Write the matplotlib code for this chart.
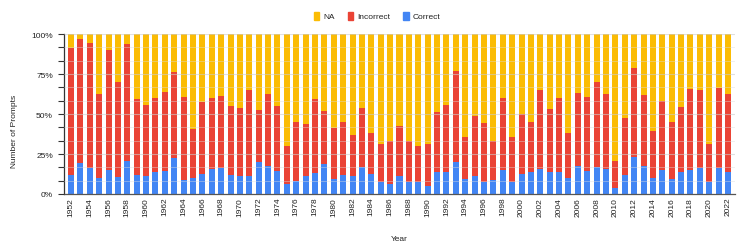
import numpy as np
import matplotlib
matplotlib.use("Agg")
import matplotlib.pyplot as plt
from matplotlib import patches
import matplotlib.ticker as ticker

plt.rcParams['font.family'] = ['Liberation Sans', 'DejaVu Sans']

years = list(range(1952, 2023))

# share of prompts per year, in percent (NA is whatever is left up to 100)
correct = [12.1, 19.6, 16.5, 10.0, 14.8, 10.8, 20.6, 11.9, 11.2, 13.7,
           14.6, 22.3, 8.5, 10.0, 12.5, 15.8, 16.2, 11.9, 11.0, 11.0,
           19.8, 17.5, 14.2, 6.5, 8.3, 11.0, 13.1, 18.5, 9.6, 12.1,
           11.2, 16.9, 12.5, 7.7, 6.2, 11.2, 7.7, 7.7, 5.2, 13.5,
           14.0, 20.0, 9.6, 11.2, 7.7, 9.0, 15.0, 7.7, 12.5, 14.0,
           15.4, 13.5, 13.5, 10.0, 17.3, 14.2, 16.9, 15.8, 4.0, 11.9,
           23.3, 17.5, 10.0, 15.0, 9.6, 13.7, 15.0, 16.2, 7.7, 16.2,
           13.7]
answered = [91.0, 96.9, 94.4, 62.7, 89.8, 69.8, 93.8, 59.2, 55.8, 59.8,
            63.7, 76.0, 60.6, 40.8, 57.7, 59.8, 61.0, 54.8, 53.7, 65.0,
            52.5, 62.3, 54.8, 29.8, 45.2, 44.0, 59.4, 52.1, 41.5, 45.2,
            37.1, 53.7, 38.3, 31.5, 33.3, 42.7, 33.3, 30.2, 31.2, 51.2,
            55.8, 76.7, 35.6, 49.0, 44.4, 33.3, 60.2, 35.4, 50.2, 45.2,
            65.0, 52.9, 59.8, 38.3, 63.1, 60.6, 69.8, 62.7, 20.8, 47.5,
            79.0, 62.1, 39.4, 58.3, 45.2, 54.4, 65.6, 64.8, 31.2, 66.2,
            62.7]

correct = np.array(correct)
incorrect = np.array(answered) - correct
na = 100 - np.array(answered)

c_na = "#FBBC04"
c_inc = "#EA4335"
c_cor = "#4285F4"

fig = plt.figure(figsize=(7.47, 2.53), dpi=100)
ax = fig.add_axes([64 / 747, 1 - 195 / 253, 671 / 747, 160 / 253])

x = np.arange(len(years))
w = 0.64
ax.bar(x, correct, w, color=c_cor, zorder=2)
ax.bar(x, incorrect, w, bottom=correct, color=c_inc, zorder=2)
ax.bar(x, na, w, bottom=correct + incorrect, color=c_na, zorder=2)

ax.set_xlim(-0.745, len(years) - 1 + 0.745)
ax.set_ylim(0, 100)

ax.set_yticks([0, 25, 50, 75, 100])
ax.set_yticklabels(["0%", "25%", "50%", "75%", "100%"])
minor = [v for v in np.arange(0, 100.1, 100 / 12) if round(v, 3) % 25 != 0]
ax.set_yticks(minor, minor=True)
ax.tick_params(axis="y", which="both", length=4, width=0.8, color="#333333",
               labelsize=6, labelcolor="#222222", pad=4)

ax.set_xticks(x[::2])
ax.set_xticklabels([str(y) for y in years[::2]], rotation=90)
ax.tick_params(axis="x", length=0, labelsize=6, labelcolor="#222222", pad=2)

ax.grid(axis="y", which="major", color="#cccccc", linewidth=0.8, alpha=0.6, zorder=3)
ax.grid(axis="y", which="minor", color="#dddddd", linewidth=0.6, alpha=0.5, zorder=3)
ax.set_axisbelow(False)

for s in ["top", "right"]:
    ax.spines[s].set_visible(False)
ax.spines["left"].set_color("#333333")
ax.spines["bottom"].set_color("#555555")
ax.spines["left"].set_linewidth(0.9)
ax.spines["bottom"].set_linewidth(0.9)

ax.set_ylabel("Number of Prompts", fontsize=6, color="#222222")
ax.yaxis.set_label_coords(-0.069, 0.4)
ax.set_xlabel("Year", fontsize=6, color="#222222")
ax.xaxis.set_label_coords(0.5, -0.258)

handles = [patches.Patch(color=c_na, label="NA"),
           patches.Patch(color=c_inc, label="Incorrect"),
           patches.Patch(color=c_cor, label="Correct")]
fig.legend(handles=handles, loc="center", bbox_to_anchor=(0.505, 1 - 17 / 253),
           ncol=3, frameon=False, fontsize=6, handlelength=0.7, handleheight=1.1,
           handletextpad=0.5, columnspacing=1.5, labelcolor="#222222")

fig.savefig("out.png", dpi=100)
